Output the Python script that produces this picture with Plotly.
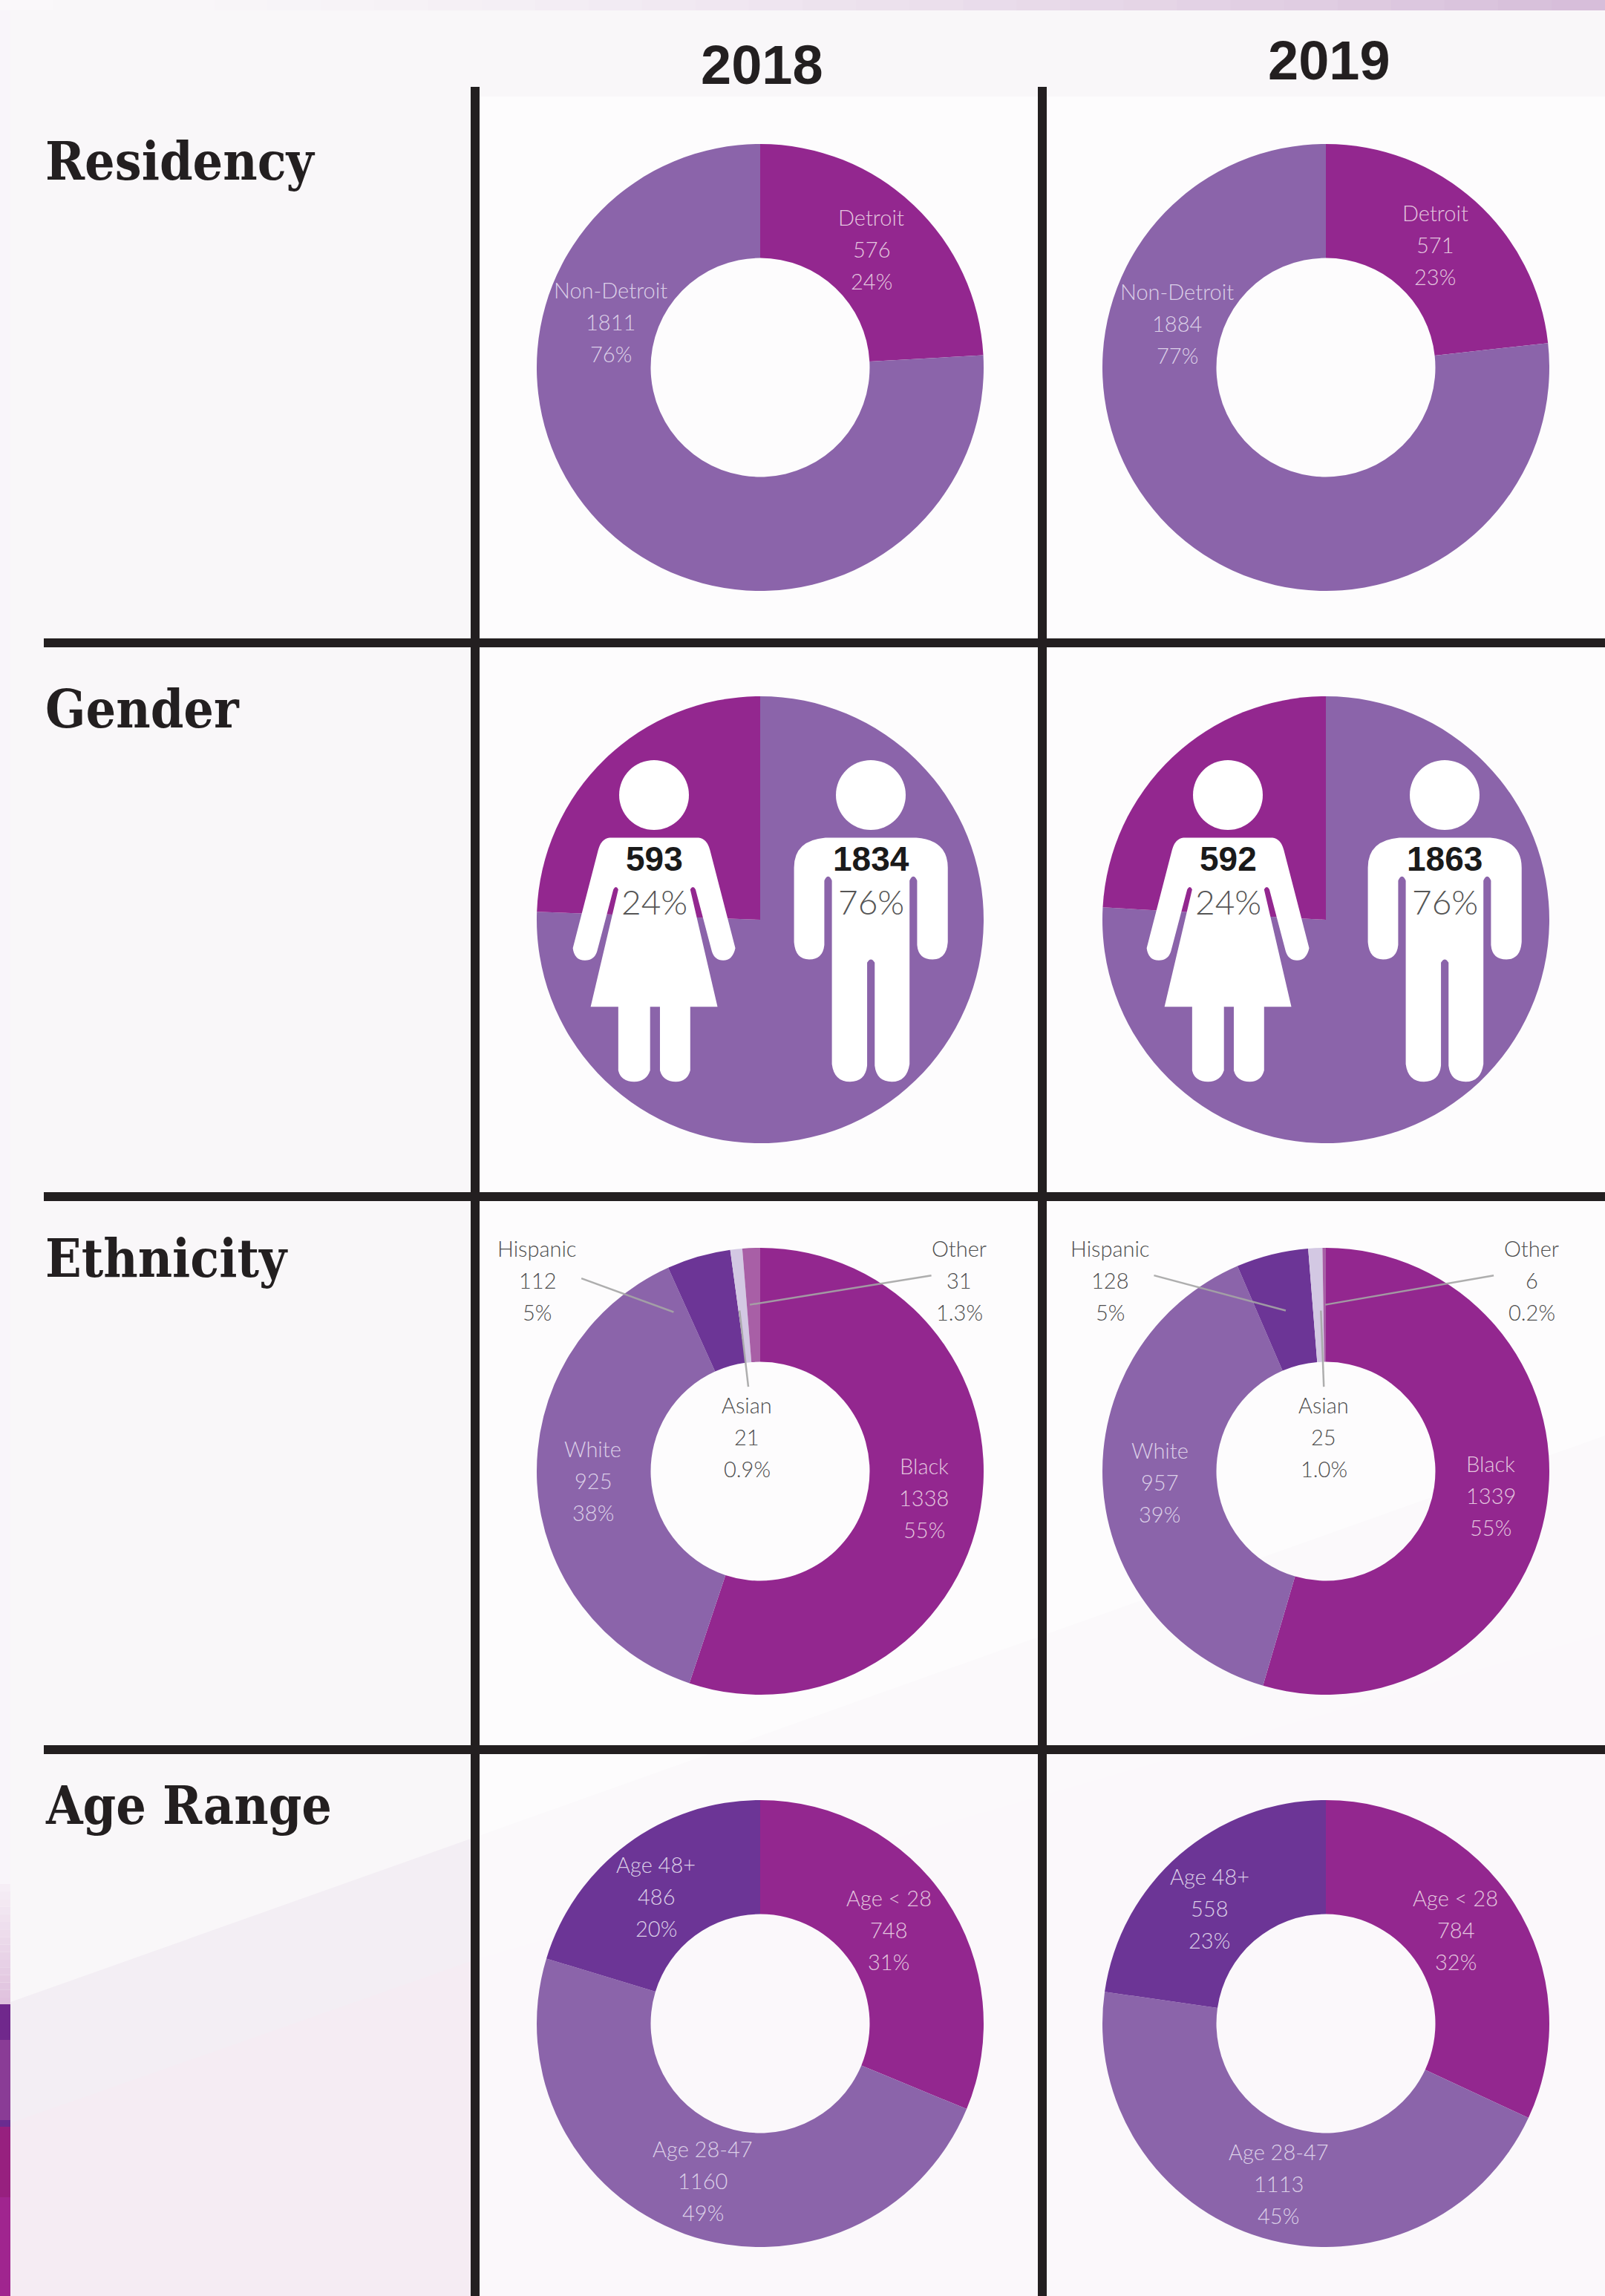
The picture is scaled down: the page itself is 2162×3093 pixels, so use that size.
import re
import plotly.graph_objects as go

W, H = 2162, 3093

# ---------- data ----------
years = ["2018", "2019"]
rows = ["Residency", "Gender", "Ethnicity", "Age Range"]

residency_labels = ["Detroit", "Non-Detroit"]
residency_2018 = [576, 1811]
residency_2019 = [571, 1884]
residency_pct_2018 = ["24%", "76%"]
residency_pct_2019 = ["23%", "77%"]

gender_labels = ["Male", "Female"]
gender_2018 = [1834, 593]
gender_2019 = [1863, 592]
gender_pct_2018 = ["76%", "24%"]
gender_pct_2019 = ["76%", "24%"]

ethnicity_labels = ["Black", "White", "Hispanic", "Asian", "Other"]
ethnicity_2018 = [1338, 925, 112, 21, 31]
ethnicity_2019 = [1339, 957, 128, 25, 6]
ethnicity_pct_2018 = ["55%", "38%", "5%", "0.9%", "1.3%"]
ethnicity_pct_2019 = ["55%", "39%", "5%", "1.0%", "0.2%"]

age_labels = ["Age < 28", "Age 28-47", "Age 48+"]
age_2018 = [748, 1160, 486]
age_2019 = [784, 1113, 558]
age_pct_2018 = ["31%", "49%", "20%"]
age_pct_2019 = ["32%", "45%", "23%"]

# ---------- style ----------
MAGENTA, PURPLE, DARK = "#93278f", "#8b64aa", "#6c3596"
OTHER_C, ASIAN_C = "#a85fa6", "#d3c8e3"
INK = "#231f20"
SMALL = "Lato, Roboto, sans-serif"
SLAB = "DejaVu Serif Condensed, DejaVu Serif, serif"
ON_MAGENTA, ON_PURPLE, OUT_TXT = "#e3c6df", "#dcd0e8", "#4d4d4d"

col_x = [1024, 1786]
row_y = [495, 1239, 1982, 2726]
R = 301
HOLE = 0.49
LINE_GAP = 43


def X(p):
    return p / W


def Y(p):
    return 1 - p / H


def to_paper(path, fx, fy):
    i = 0

    def sub(m):
        nonlocal i
        v = float(m.group(0))
        r = fx(v) if i % 2 == 0 else fy(v)
        i += 1
        return f"{r:.6f}"

    return re.sub(r"-?\d+\.?\d*", sub, path)


fig = go.Figure()


def add_pie(cx, cy, values, names, colors, hole=HOLE):
    fig.add_trace(go.Pie(
        values=values, labels=names, sort=False, direction="clockwise", rotation=0,
        hole=hole, textinfo="none", hoverinfo="label+value", showlegend=False,
        marker=dict(colors=colors, line=dict(width=0)),
        domain=dict(x=[X(cx - R), X(cx + R)], y=[Y(cy + R), Y(cy - R)]),
    ))


shapes, annos = [], []


def rect(x0, y0, x1, y1, color, layer="below"):
    shapes.append(dict(type="rect", xref="paper", yref="paper", x0=X(x0), x1=X(x1),
                       y0=Y(y0), y1=Y(y1), fillcolor=color, line=dict(width=0), layer=layer))


def poly(pts, color, layer="below"):
    d = "M" + " L".join(f"{X(a):.6f},{Y(b):.6f}" for a, b in pts) + " Z"
    shapes.append(dict(type="path", xref="paper", yref="paper", path=d,
                       fillcolor=color, line=dict(width=0), layer=layer))


def line(x0, y0, x1, y1, color=INK, width=12):
    shapes.append(dict(type="line", xref="paper", yref="paper", x0=X(x0), x1=X(x1),
                       y0=Y(y0), y1=Y(y1), line=dict(color=color, width=width), layer="above"))


def text(px, py, s, size, color, font=SMALL, xanchor="center", bold=False, weight=None):
    f = dict(family=font, size=size, color=color)
    if weight:
        f["weight"] = weight
    annos.append(dict(xref="paper", yref="paper", x=X(px), y=Y(py), text=f"<b>{s}</b>" if bold else s,
                      showarrow=False, xanchor=xanchor, yanchor="middle", align="center", font=f))


# ---------- background ----------
rect(0, 0, W, H, "#f9f7f9")
poly([(14, 2697), (634, 2477), (W, 1934), (W, H), (14, H)], "#f3eef4")
poly([(14, 2860), (640, 2640), (W, 2200), (W, H), (14, H)], "#f5ecf3")
rect(646, 130, W, H, "rgba(255,255,255,0.62)")
# top strip
n = 30
for i in range(n):
    t = i / (n - 1)
    c = (int(250 - 35 * t ** 1.6), int(248 - 58 * t ** 1.6), int(250 - 32 * t ** 1.6))
    rect(W * i / n, 0, W * (i + 1) / n + 1, 14, f"rgb{c}")
# left strip
rect(0, 14, 14, 2538, "#f9f5fa")
for i in range(16):
    t = i / 15
    c = (int(246 - 22 * t), int(238 - 45 * t), int(246 - 24 * t))
    rect(0, 2538 + i * 10.2, 14, 2538 + (i + 1) * 10.2, f"rgb{c}")
rect(0, 2700, 14, 2748, "#70288c")
rect(0, 2748, 14, 2856, "#8a3c96")
rect(0, 2856, 14, 2865, "#6a2c90")
rect(0, 2865, 14, 2960, "#97207f")
rect(0, 2960, 14, H, "#a0258f")

# ---------- pies ----------
for j, (res, gen, eth, age) in enumerate([
    (residency_2018, gender_2018, ethnicity_2018, age_2018),
    (residency_2019, gender_2019, ethnicity_2019, age_2019),
]):
    add_pie(col_x[j], row_y[0], res, residency_labels, [MAGENTA, PURPLE])
    add_pie(col_x[j], row_y[1], gen, gender_labels, [PURPLE, MAGENTA], hole=0)
    add_pie(col_x[j], row_y[2], eth, ethnicity_labels, [MAGENTA, PURPLE, DARK, ASIAN_C, OTHER_C])
    add_pie(col_x[j], row_y[3], age, age_labels, [MAGENTA, PURPLE, DARK])

# ---------- grid and headers ----------
for xv in (640, 1404):
    line(xv, 117, xv, H)
for yv in (866, 1612, 2357):
    line(59, yv, W, yv)

text(1026, 87, years[0], 74, INK, "Liberation Sans, Arial, sans-serif", bold=True)
text(1790, 81, years[1], 74, INK, "Liberation Sans, Arial, sans-serif", bold=True)
for name, yv in zip(rows, (217, 955, 1695, 2432)):
    text(59, yv, name, 71, INK, SLAB, xanchor="left", bold=True)

# ---------- data labels ----------
S = 2162 / 1096


def lab(sx, sy, name, val, pct, color):
    for k, s in enumerate((name, str(val), pct)):
        text(sx * S, sy * S + (k - 1) * LINE_GAP, s, 29, color, weight=300)


lab(595, 170, residency_labels[0], residency_2018[0], residency_pct_2018[0], ON_MAGENTA)
lab(417, 220, residency_labels[1], residency_2018[1], residency_pct_2018[1], ON_PURPLE)
lab(980, 167, residency_labels[0], residency_2019[0], residency_pct_2019[0], ON_MAGENTA)
lab(804, 221, residency_labels[1], residency_2019[1], residency_pct_2019[1], ON_PURPLE)

eth_pos = [
    [(631, 1023), (405, 1011), (367, 874), (510, 981), (655, 874)],
    [(1018, 1021), (792, 1012), (758, 874), (904, 981), (1046, 874)],
]
eth_col = [ON_MAGENTA, ON_PURPLE, OUT_TXT, OUT_TXT, OUT_TXT]
for i in range(5):
    lab(*eth_pos[0][i], ethnicity_labels[i], ethnicity_2018[i], ethnicity_pct_2018[i], eth_col[i])
    lab(*eth_pos[1][i], ethnicity_labels[i], ethnicity_2019[i], ethnicity_pct_2019[i], eth_col[i])

age_pos = [[(607, 1318), (480, 1489), (448, 1295)], [(994, 1318), (873, 1491), (826, 1303)]]
age_col = [ON_MAGENTA, ON_PURPLE, ON_PURPLE]
for i in range(3):
    lab(*age_pos[0][i], age_labels[i], age_2018[i], age_pct_2018[i], age_col[i])
    lab(*age_pos[1][i], age_labels[i], age_2019[i], age_pct_2019[i], age_col[i])

# leader lines (in shrunk-picture units)
for a, b, c, d in [
    (397, 873, 460, 896), (636, 871, 512, 891), (505, 895, 511, 947),
    (788, 871, 878, 895), (1020, 871, 905, 891), (902, 895, 904, 947),
]:
    line(a * S, b * S, c * S, d * S, "rgba(165,165,165,0.9)", 2.5)

# ---------- gender pictograms ----------
WOMAN = ("M355,527 L590,527 Q612,530 620,565 L687,870 Q680,908 655,908 Q632,908 625,880 "
         "L582,688 Q575,672 568,688 L640,1052 L568,1052 L568,1250 Q560,1285 530,1285 Q496,1285 488,1250 "
         "L488,1052 L462,1052 L462,1250 Q452,1285 420,1285 Q385,1285 378,1250 L378,1052 L305,1052 "
         "L378,688 Q372,672 365,688 L322,880 Q315,908 290,908 Q262,908 258,870 L325,565 Q333,530 355,527 Z")
MAN = ("M925,527 L1165,527 Q1248,535 1248,620 L1248,850 Q1245,905 1208,905 Q1170,905 1167,860 L1167,660 "
       "Q1157,635 1147,660 L1147,1230 Q1140,1285 1100,1285 Q1060,1285 1055,1235 L1055,915 Q1045,895 1035,915 "
       "L1035,1235 Q1030,1285 990,1285 Q948,1285 942,1230 L942,660 Q932,635 922,660 L922,860 "
       "Q918,905 882,905 Q845,905 842,850 L842,620 Q842,535 925,527 Z")
HEAD_W = (881, 1071)
HEAD_M = (1173, 1071)
for dx in (0, 773):
    fx = lambda v, dx=dx: X(640 + v / 1.96 + dx)
    fy = lambda v: Y(900 + v / 2.306)
    for p in (WOMAN, MAN):
        shapes.append(dict(type="path", xref="paper", yref="paper", path=to_paper(p, fx, fy),
                           fillcolor="#ffffff", line=dict(width=0), layer="above"))
    for hx, hy in (HEAD_W, HEAD_M):
        shapes.append(dict(type="circle", xref="paper", yref="paper", x0=X(hx - 47 + dx), x1=X(hx + 47 + dx),
                           y0=Y(hy + 47), y1=Y(hy - 47), fillcolor="#ffffff", line=dict(width=0), layer="above"))

for j, (gen, pct) in enumerate([(gender_2018, gender_pct_2018), (gender_2019, gender_pct_2019)]):
    dx = 773 * j
    text(881 + dx, 1157, str(gen[1]), 46, "#1a1a1a", "Liberation Sans, sans-serif", bold=True)
    text(881 + dx, 1215, pct[1], 46, "#555555", weight=300)
    text(1173 + dx, 1157, str(gen[0]), 46, "#1a1a1a", "Liberation Sans, sans-serif", bold=True)
    text(1173 + dx, 1215, pct[0], 46, "#555555", weight=300)

fig.update_layout(width=W, height=H, margin=dict(l=0, r=0, t=0, b=0), autosize=False,
                  paper_bgcolor="#f9f7f9", plot_bgcolor="rgba(0,0,0,0)",
                  shapes=shapes, annotations=annos, showlegend=False)

fig.write_html("out.html", config=dict(displayModeBar=False),
               post_script="document.body.style.margin='0';document.body.style.overflow='hidden';")
